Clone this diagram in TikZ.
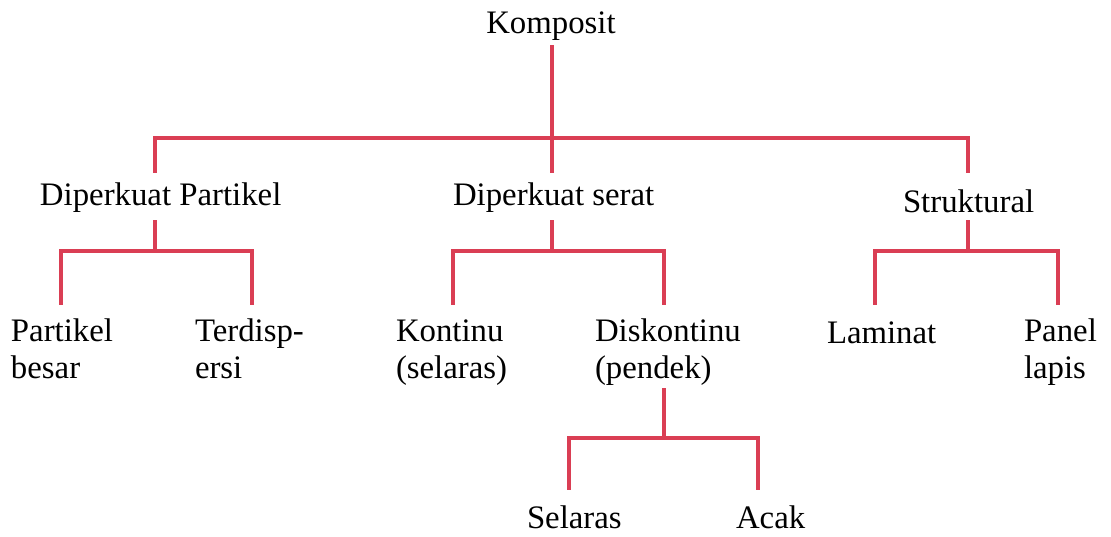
\documentclass[tikz,border=0pt]{standalone}
\usepackage{fontspec}
\setmainfont{Liberation Serif}
\usetikzlibrary{calc}
\definecolor{linered}{RGB}{218,62,84}
\begin{document}
\begin{tikzpicture}[x=0.75pt,y=-0.75pt,
  lbl/.style={inner sep=0pt,outer sep=0pt,align=left,font=\fontsize{24.6}{27.75}\selectfont},
  conn/.style={draw=linered,line width=3.2pt,line cap=butt,line join=miter}]
\useasboundingbox (0,0) rectangle (1111,536);
% nodes (base = baseline of the last line)
\node[lbl,anchor=base] (komp) at (551,33) {Komposit};
\node[lbl,anchor=base west] (dp) at (40,205) {Diperkuat Partikel};
\node[lbl,anchor=base west] (ds) at (453,205) {Diperkuat serat};
\node[lbl,anchor=base west] (st) at (903,212) {Struktural};
\node[lbl,anchor=base west] (pb) at (11,378) {Partikel\\besar};
\node[lbl,anchor=base west] (td) at (195,378) {Terdisp-\\ersi};
\node[lbl,anchor=base west] (ko) at (396,378) {Kontinu\\(selaras)};
\node[lbl,anchor=base west] (dk) at (595,378) {Diskontinu\\(pendek)};
\node[lbl,anchor=base west] (la) at (827,343) {Laminat};
\node[lbl,anchor=base west] (pl) at (1024,378) {Panel\\lapis};
\node[lbl,anchor=base west] (se) at (527,528) {Selaras};
\node[lbl,anchor=base west] (ac) at (736,528) {Acak};
% level 1
\draw[conn] ($(komp.base)+(1,12)$) -- (552,138);
\draw[conn] (552,138) -| ($(dp.base west)+(115,-32)$);
\draw[conn] (552,138) -| ($(st.base west)+(65,-39)$);
\draw[conn] (552,138) -- ($(ds.base west)+(99,-32)$);
% Diperkuat Partikel
\draw[conn] ($(dp.base west)+(115,15)$) -- (155,251);
\draw[conn] (155,251) -| ($(pb.base west)+(50,-73)$);
\draw[conn] (155,251) -| ($(td.base west)+(57,-73)$);
% Diperkuat serat
\draw[conn] ($(ds.base west)+(99,15)$) -- (552,251);
\draw[conn] (552,251) -| ($(ko.base west)+(57,-73)$);
\draw[conn] (552,251) -| ($(dk.base west)+(69,-73)$);
% Struktural
\draw[conn] ($(st.base west)+(65,8)$) -- (968,251);
\draw[conn] (968,251) -| ($(la.base west)+(48,-38)$);
\draw[conn] (968,251) -| ($(pl.base west)+(34,-73)$);
% Diskontinu
\draw[conn] ($(dk.base west)+(69,10)$) -- (664,438);
\draw[conn] (664,438) -| ($(se.base west)+(42,-38)$);
\draw[conn] (664,438) -| ($(ac.base west)+(22,-38)$);
\end{tikzpicture}
\end{document}
